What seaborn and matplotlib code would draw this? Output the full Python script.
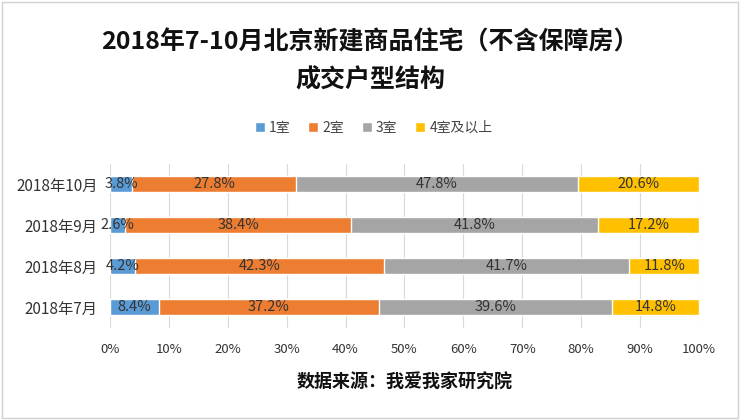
import numpy as np
import pandas as pd
import matplotlib
matplotlib.use("Agg")
import matplotlib.pyplot as plt
from matplotlib.patches import Patch, Rectangle
import seaborn as sns

sns.set_theme(style="white")
plt.rcParams["font.family"] = ["Noto Sans CJK SC", "DejaVu Sans"]

# Data
months = ["2018年10月", "2018年9月", "2018年8月", "2018年7月"]
series_names = ["1室", "2室", "3室", "4室及以上"]
room1 = [3.8, 2.6, 4.2, 8.4]
room2 = [27.8, 38.4, 42.3, 37.2]
room3 = [47.8, 41.8, 41.7, 39.6]
room4 = [20.6, 17.2, 11.8, 14.8]
colors = ["#5B9BD5", "#ED7D31", "#A5A5A5", "#FFC000"]

df = pd.DataFrame({"month": months, "1室": room1, "2室": room2, "3室": room3, "4室及以上": room4})
cum = df[series_names].cumsum(axis=1)

fig = plt.figure(figsize=(7.4, 4.2), dpi=100)
ax = fig.add_axes([0.1486, 0.2202, 0.796, 0.3905])

# draw from the longest cumulative bar down so shorter segments sit on top
for name, c in reversed(list(zip(series_names, colors))):
    sns.barplot(x=cum[name], y=df["month"], color=c, width=0.4, orient="h",
                ax=ax, saturation=1, zorder=2)

for name in series_names:
    for i, (v, right) in enumerate(zip(df[name], cum[name])):
        ax.text(right - v / 2, i, f"{v:.1f}%", ha="center", va="center",
                fontsize=10.5, color="#333333", zorder=3)

ax.set_xlim(0, 100)
ax.set_ylim(3.5, -0.5)
ax.set_xticks(np.arange(0, 101, 10))
ax.set_xticklabels([f"{t}%" for t in range(0, 101, 10)], fontsize=9.5, color="#333333")
ax.tick_params(axis="y", labelsize=11, labelcolor="#333333", length=0, pad=9)
ax.tick_params(axis="x", length=0, pad=11)
ax.set_xlabel("")
ax.set_ylabel("")
ax.grid(axis="x", color="#D9D9D9", linewidth=0.8, zorder=0)
ax.set_axisbelow(True)
for s in ax.spines.values():
    s.set_visible(False)

fig.text(0.5, 0.90, "2018年7-10月北京新建商品住宅（不含保障房）", ha="center", va="center",
         fontsize=18, fontweight="bold", color="#111111")
fig.text(0.5, 0.808, "成交户型结构", ha="center", va="center",
         fontsize=18, fontweight="bold", color="#111111")

handles = [Patch(facecolor=c, label=n) for n, c in zip(series_names, colors)]
fig.legend(handles=handles, loc="center", bbox_to_anchor=(0.505, 0.695), ncol=4,
           frameon=False, fontsize=10, handlelength=0.7, handleheight=0.7,
           handletextpad=0.3, columnspacing=1.3, labelcolor="#444444")

fig.text(0.547, 0.09, "数据来源：我爱我家研究院", ha="center", va="center",
         fontsize=13, fontweight="bold", color="#111111")

fig.patches.append(Rectangle((0.003, 0.005), 0.994, 0.99, transform=fig.transFigure,
                             fill=False, edgecolor="#D0D0D0", linewidth=1))

fig.savefig("out.png", dpi=100)
